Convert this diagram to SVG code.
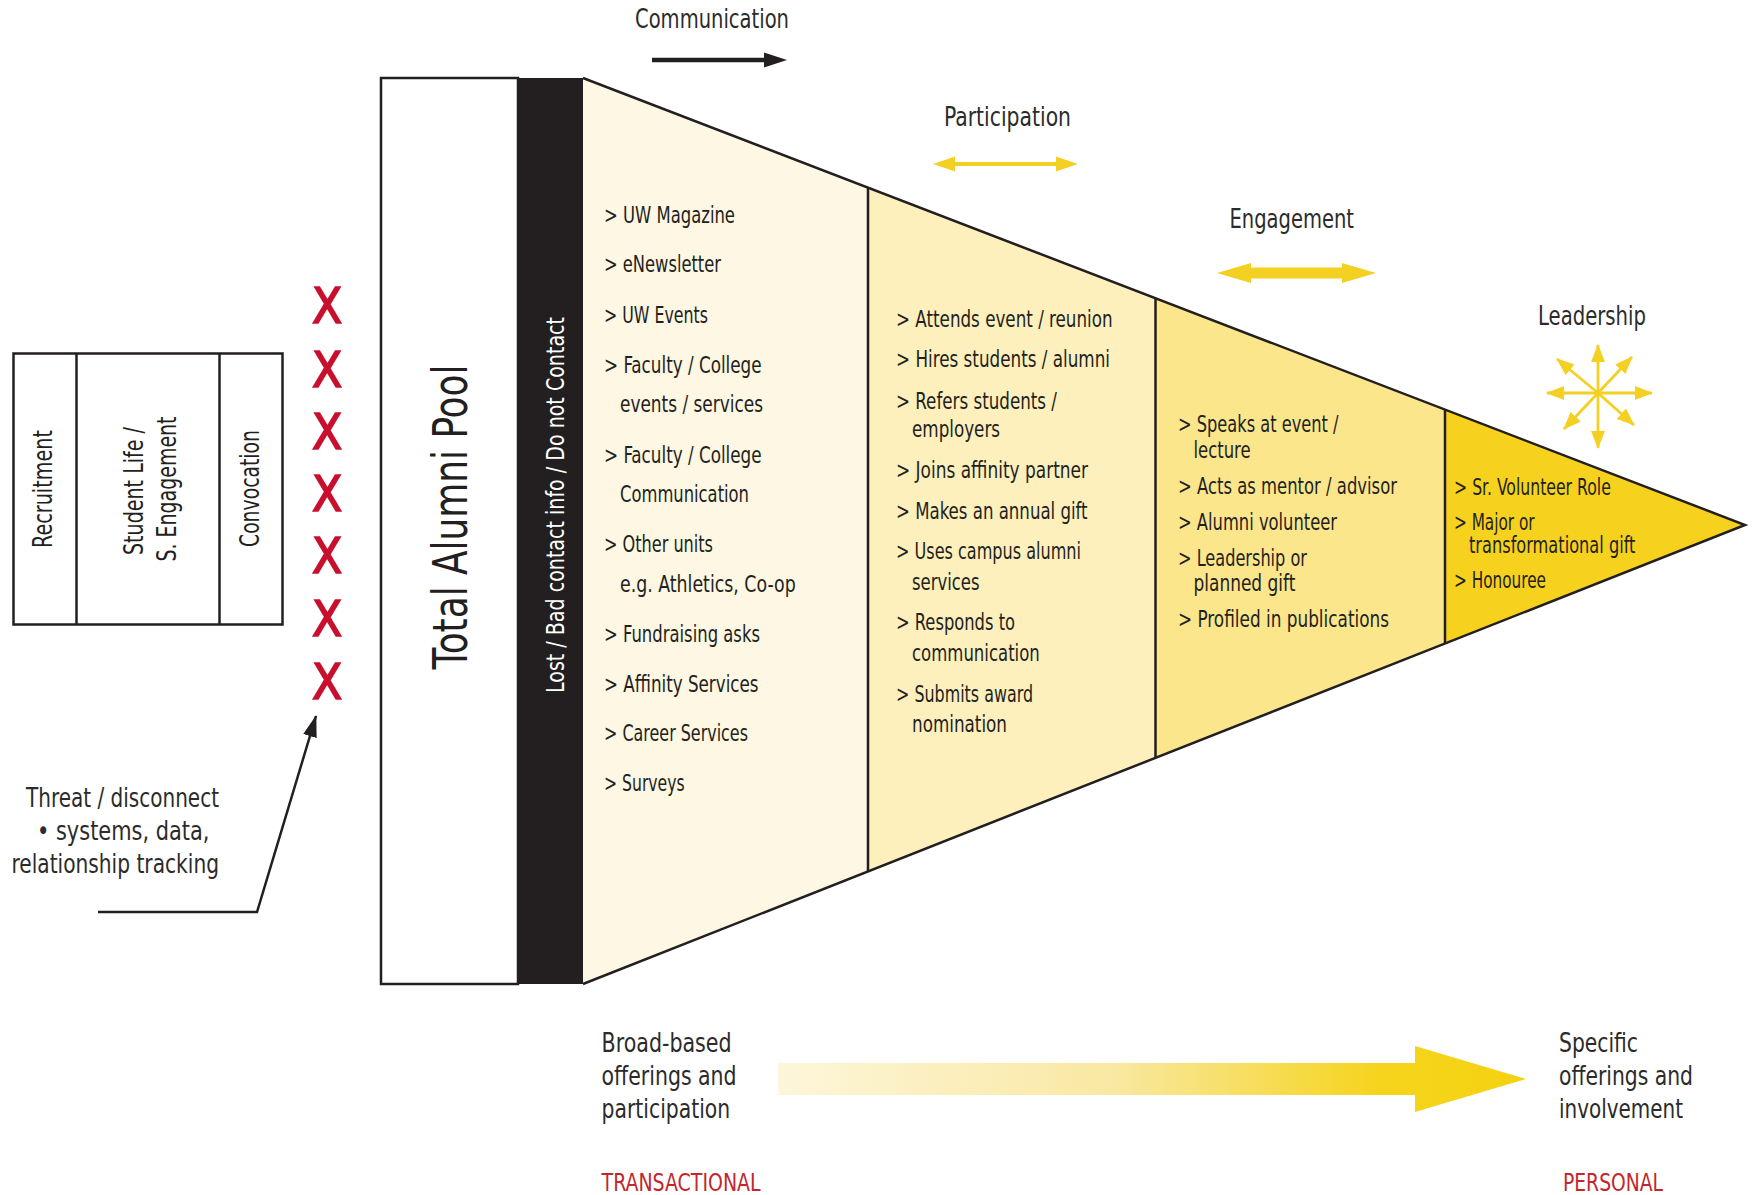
<svg xmlns="http://www.w3.org/2000/svg" width="1754" height="1195" viewBox="0 0 1754 1195">
<defs>
<style>
text { font-family: "Liberation Sans Narrow", "DejaVu Sans Condensed", "Liberation Sans", sans-serif; fill: #231f20; }
.li { font-size: 23px; }
.hd { font-size: 26px; fill: #2b2b2b; }
.bt { font-size: 26px; fill: #2b2b2b; }
.rd { font-size: 25px; fill: #c1272d; }
.x { font-size: 49px; fill: #c8102e; stroke: #c8102e; stroke-width: 1.6; text-anchor: middle; }
.rot { font-size: 27px; text-anchor: middle; }
.ln { stroke: #231f20; stroke-width: 2.5; fill: none; }
.yl { fill: #f4d023; }
.ys { stroke: #f4d023; stroke-width: 2.8; fill: none; marker-end: url(#ya); }
</style>
<linearGradient id="grad" gradientUnits="userSpaceOnUse" x1="778" y1="0" x2="1526" y2="0">
<stop offset="0" stop-color="#fdf6da"/>
<stop offset="0.45" stop-color="#f9e8a2"/>
<stop offset="0.8" stop-color="#f5d41e"/>
<stop offset="1" stop-color="#f5d20f"/>
</linearGradient>
<marker id="ya" markerUnits="userSpaceOnUse" markerWidth="18" markerHeight="14" refX="17" refY="7" orient="auto"><path d="M0,0 L18,7 L0,14 Z" fill="#f4d023"/></marker>
<marker id="ka" markerUnits="userSpaceOnUse" markerWidth="22" markerHeight="14" refX="21" refY="7" orient="auto"><path d="M0,0 L22,7 L0,14 Z" fill="#231f20"/></marker>
</defs>
<rect width="1754" height="1195" fill="#ffffff"/>

<g id="student-phases">
<rect x="13.5" y="353.5" width="269" height="271" fill="#ffffff" class="ln"/>
<line x1="76.5" y1="353.5" x2="76.5" y2="624.5" class="ln"/>
<line x1="219.5" y1="353.5" x2="219.5" y2="624.5" class="ln"/>
<text class="rot" transform="translate(52,489) rotate(-90)" textLength="118" lengthAdjust="spacingAndGlyphs">Recruitment</text>
<text class="rot" transform="translate(142.5,491) rotate(-90)" textLength="128" lengthAdjust="spacingAndGlyphs">Student Life /</text>
<text class="rot" transform="translate(175.5,489) rotate(-90)" textLength="145" lengthAdjust="spacingAndGlyphs">S. Engagement</text>
<text class="rot" transform="translate(259,488.5) rotate(-90)" textLength="117" lengthAdjust="spacingAndGlyphs">Convocation</text>
</g>

<g id="disconnects">
<text class="x" x="327" y="323">X</text>
<text class="x" x="327" y="386.6">X</text>
<text class="x" x="327" y="449.3">X</text>
<text class="x" x="327" y="510.8">X</text>
<text class="x" x="327" y="573.4">X</text>
<text class="x" x="327" y="636.1">X</text>
<text class="x" x="327" y="698.7">X</text>
</g>

<g id="threat-note">
<text class="bt" x="26" y="807" textLength="193" lengthAdjust="spacingAndGlyphs">Threat / disconnect</text>
<text class="bt" x="37" y="840" textLength="172.5" lengthAdjust="spacingAndGlyphs">• systems,  data,</text>
<text class="bt" x="11.5" y="873" textLength="207.5" lengthAdjust="spacingAndGlyphs">relationship tracking</text>
</g>

<g id="alumni-pool">
<rect x="381" y="78" width="137" height="906" fill="#ffffff" class="ln"/>
<text transform="translate(467,517) rotate(-90)" font-size="48" text-anchor="middle" textLength="305" lengthAdjust="spacingAndGlyphs">Total  Alumni Pool</text>
</g>

<g id="lost-contact">
<rect x="518" y="78" width="66" height="906" fill="#231f20"/>
<text transform="translate(564,505) rotate(-90)" font-size="24" text-anchor="middle" style="fill:#ffffff" textLength="376" lengthAdjust="spacingAndGlyphs">Lost / Bad contact info / Do not Contact</text>
</g>

<g id="communication">
<polygon points="583,78 868,187.6 868,871.4 583,984" fill="#fdf7e3"/>
<text class="li" x="604" y="223" textLength="131" lengthAdjust="spacingAndGlyphs">&gt; UW Magazine</text>
<text class="li" x="604" y="272" textLength="117" lengthAdjust="spacingAndGlyphs">&gt; eNewsletter</text>
<text class="li" x="604" y="322.5" textLength="104" lengthAdjust="spacingAndGlyphs">&gt; UW Events</text>
<text class="li" x="604" y="372.7" textLength="157.6" lengthAdjust="spacingAndGlyphs">&gt; Faculty / College</text>
<text class="li" x="620" y="412" textLength="143" lengthAdjust="spacingAndGlyphs">events / services</text>
<text class="li" x="604" y="462.8" textLength="157.6" lengthAdjust="spacingAndGlyphs">&gt; Faculty / College</text>
<text class="li" x="620" y="502" textLength="129" lengthAdjust="spacingAndGlyphs">Communication</text>
<text class="li" x="604" y="551.6" textLength="109" lengthAdjust="spacingAndGlyphs">&gt; Other units</text>
<text class="li" x="620" y="592" textLength="175.7" lengthAdjust="spacingAndGlyphs">e.g. Athletics, Co-op</text>
<text class="li" x="604" y="641.7" textLength="156" lengthAdjust="spacingAndGlyphs">&gt; Fundraising asks</text>
<text class="li" x="604" y="691.5" textLength="154.5" lengthAdjust="spacingAndGlyphs">&gt; Affinity Services</text>
<text class="li" x="604" y="741" textLength="144" lengthAdjust="spacingAndGlyphs">&gt; Career Services</text>
<text class="li" x="604" y="791" textLength="80.6" lengthAdjust="spacingAndGlyphs">&gt; Surveys</text>
</g>

<g id="participation">
<polygon points="868,187.6 1155.5,298.2 1155.5,757.9 868,871.4" fill="#fdf0bd"/>
<text class="li" x="896" y="326.7" textLength="216.6" lengthAdjust="spacingAndGlyphs">&gt; Attends event / reunion</text>
<text class="li" x="896" y="367" textLength="214" lengthAdjust="spacingAndGlyphs">&gt; Hires students / alumni</text>
<text class="li" x="896" y="408.7" textLength="161" lengthAdjust="spacingAndGlyphs">&gt; Refers students /</text>
<text class="li" x="912" y="437" textLength="88" lengthAdjust="spacingAndGlyphs">employers</text>
<text class="li" x="896" y="478" textLength="192" lengthAdjust="spacingAndGlyphs">&gt; Joins affinity partner</text>
<text class="li" x="896" y="519" textLength="191.6" lengthAdjust="spacingAndGlyphs">&gt; Makes an annual gift</text>
<text class="li" x="896" y="559" textLength="185" lengthAdjust="spacingAndGlyphs">&gt; Uses campus alumni</text>
<text class="li" x="912" y="590" textLength="67.6" lengthAdjust="spacingAndGlyphs">services</text>
<text class="li" x="896" y="630" textLength="119" lengthAdjust="spacingAndGlyphs">&gt; Responds to</text>
<text class="li" x="912" y="661" textLength="127.8" lengthAdjust="spacingAndGlyphs">communication</text>
<text class="li" x="896" y="702" textLength="137" lengthAdjust="spacingAndGlyphs">&gt; Submits award</text>
<text class="li" x="912" y="732" textLength="95" lengthAdjust="spacingAndGlyphs">nomination</text>
</g>

<g id="engagement">
<polygon points="1155.5,298.2 1445,409.6 1445,643.5 1155.5,757.9" fill="#fbe68c"/>
<text class="li" x="1178" y="432" textLength="160.5" lengthAdjust="spacingAndGlyphs">&gt; Speaks at event /</text>
<text class="li" x="1193.5" y="458" textLength="57" lengthAdjust="spacingAndGlyphs">lecture</text>
<text class="li" x="1178" y="494" textLength="219" lengthAdjust="spacingAndGlyphs">&gt; Acts as mentor / advisor</text>
<text class="li" x="1178" y="530" textLength="159" lengthAdjust="spacingAndGlyphs">&gt; Alumni volunteer</text>
<text class="li" x="1178" y="565.7" textLength="129" lengthAdjust="spacingAndGlyphs">&gt; Leadership or</text>
<text class="li" x="1193.5" y="590.7" textLength="101.8" lengthAdjust="spacingAndGlyphs">planned gift</text>
<text class="li" x="1178" y="626.7" textLength="211" lengthAdjust="spacingAndGlyphs">&gt; Profiled in publications</text>
</g>

<g id="leadership">
<polygon points="1445,409.6 1745,525 1445,643.5" fill="#f6d21e"/>
<text class="li" x="1454" y="495" textLength="156.8" lengthAdjust="spacingAndGlyphs">&gt; Sr. Volunteer Role</text>
<text class="li" x="1454" y="530" textLength="80.6" lengthAdjust="spacingAndGlyphs">&gt; Major or</text>
<text class="li" x="1469" y="553" textLength="166.4" lengthAdjust="spacingAndGlyphs">transformational gift</text>
<text class="li" x="1454" y="588" textLength="92" lengthAdjust="spacingAndGlyphs">&gt; Honouree</text>
</g>

<g id="funnel-outline">
<polyline points="583,78 1745,525 583,984" class="ln" stroke-linejoin="miter"/>
<line x1="868" y1="187.6" x2="868" y2="871.4" class="ln"/>
<line x1="1155.5" y1="298.2" x2="1155.5" y2="757.9" class="ln"/>
<line x1="1445" y1="409.6" x2="1445" y2="643.5" class="ln"/>
</g>

<g id="stage-labels">
<text class="hd" x="635" y="28" textLength="154" lengthAdjust="spacingAndGlyphs">Communication</text>
<line x1="652" y1="60" x2="766" y2="60" stroke="#231f20" stroke-width="4.5"/>
<polygon points="764,52.5 787,60 764,67.5" fill="#231f20"/>
<text class="hd" x="944" y="126" textLength="127" lengthAdjust="spacingAndGlyphs">Participation</text>
<polygon class="yl" points="933,164 955,156.5 955,162 1056,162 1056,156.5 1078,164 1056,171.5 1056,166 955,166 955,171.5"/>
<text class="hd" x="1229.5" y="228" textLength="124.5" lengthAdjust="spacingAndGlyphs">Engagement</text>
<polygon class="yl" points="1217,273 1251,263 1251,267.5 1342,267.5 1342,263 1376,273 1342,283 1342,278.5 1251,278.5 1251,283"/>
<text class="hd" x="1538" y="325" textLength="108" lengthAdjust="spacingAndGlyphs">Leadership</text>
<line class="ys" x1="1598" y1="393" x2="1598" y2="345"/>
<line class="ys" x1="1598" y1="393" x2="1598" y2="448"/>
<line class="ys" x1="1598" y1="393" x2="1547" y2="393"/>
<line class="ys" x1="1598" y1="393" x2="1652" y2="393"/>
<line class="ys" x1="1598" y1="393" x2="1557" y2="359"/>
<line class="ys" x1="1598" y1="393" x2="1632" y2="357"/>
<line class="ys" x1="1598" y1="393" x2="1564" y2="429"/>
<line class="ys" x1="1598" y1="393" x2="1634" y2="425"/>
</g>

<g id="connectors">
<polyline points="98,912 257,912 316,716" class="ln" stroke-width="2.2" marker-end="url(#ka)"/>
</g>

<g id="spectrum">
<polygon points="778,1063 1415,1063 1415,1046 1526,1079 1415,1112 1415,1095 778,1095" fill="url(#grad)"/>
<text class="bt" x="601.6" y="1052" textLength="130" lengthAdjust="spacingAndGlyphs">Broad-based</text>
<text class="bt" x="601.6" y="1085" textLength="135" lengthAdjust="spacingAndGlyphs">offerings and</text>
<text class="bt" x="601.6" y="1118" textLength="128.6" lengthAdjust="spacingAndGlyphs">participation</text>
<text class="rd" x="601.6" y="1191" textLength="159" lengthAdjust="spacingAndGlyphs">TRANSACTIONAL</text>
<text class="bt" x="1559" y="1052" textLength="79" lengthAdjust="spacingAndGlyphs">Specific</text>
<text class="bt" x="1559" y="1085" textLength="134" lengthAdjust="spacingAndGlyphs">offerings and</text>
<text class="bt" x="1559" y="1118" textLength="124" lengthAdjust="spacingAndGlyphs">involvement</text>
<text class="rd" x="1563" y="1191" textLength="100" lengthAdjust="spacingAndGlyphs">PERSONAL</text>
</g>
</svg>
